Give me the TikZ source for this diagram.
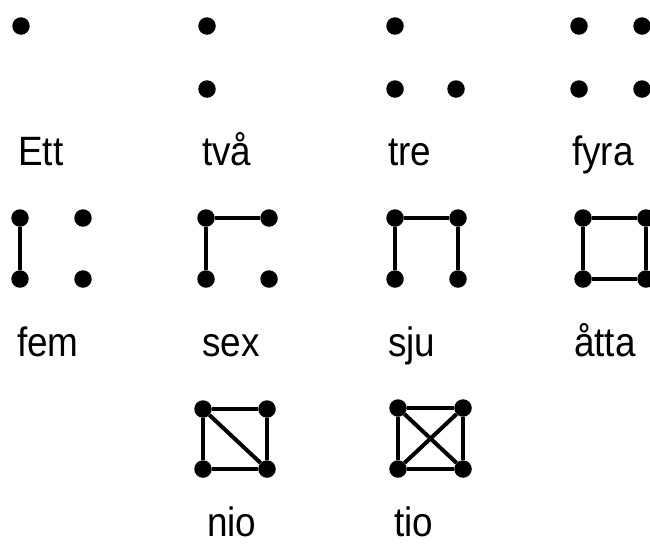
\documentclass[tikz,border=0pt]{standalone}
\usepackage{fontspec}
\setmainfont[FakeStretch=0.9]{Liberation Sans}
\begin{document}
\begin{tikzpicture}[x=1pt,y=-1pt,
  vdot/.style={circle, fill=black, inner sep=0pt, minimum size=17.5pt},
  link/.style={line width=4pt, black},
  lbl/.style={anchor=base west, inner sep=0pt, font=\fontsize{41}{48}\selectfont}]
\useasboundingbox (0,0) rectangle (650,547);
% Row 1
\node[vdot] (e1) at (21,26) {};
\node[lbl] (lEtt) at (18,165) {Ett};
\node[vdot] (t1) at (207,26) {};
\node[vdot] (t2) at (207,89) {};
\node[lbl] (ltva) at (202,165) {två};
\node[vdot] (r1) at (395,26) {};
\node[vdot] (r2) at (395,89) {};
\node[vdot] (r3) at (456,89) {};
\node[lbl] (ltre) at (388,165) {tre};
\node[vdot] (f1) at (579,26) {};
\node[vdot] (f2) at (642,26) {};
\node[vdot] (f3) at (579,89) {};
\node[vdot] (f4) at (642,89) {};
\node[lbl] (lfyra) at (572,165) {fyra};
% Row 2
\node[vdot] (a1) at (20,218) {};
\node[vdot] (a2) at (20,279) {};
\node[vdot] (a3) at (83,218) {};
\node[vdot] (a4) at (83,279) {};
\draw[link] (a1) -- (a2);
\node[lbl] (lfem) at (17,356) {fem};
\node[vdot] (b1) at (206,218) {};
\node[vdot] (b2) at (269,218) {};
\node[vdot] (b3) at (206,279) {};
\node[vdot] (b4) at (269,279) {};
\draw[link] (b3) -- (b1) -- (b2);
\node[lbl] (lsex) at (202,356) {sex};
\node[vdot] (c1) at (395,218) {};
\node[vdot] (c2) at (458,218) {};
\node[vdot] (c3) at (395,279) {};
\node[vdot] (c4) at (458,279) {};
\draw[link] (c3) -- (c1) -- (c2) -- (c4);
\node[lbl] (lsju) at (388,356) {sju};
\node[vdot] (d1) at (583,218) {};
\node[vdot] (d2) at (646,218) {};
\node[vdot] (d3) at (583,279) {};
\node[vdot] (d4) at (646,279) {};
\draw[link] (d1) -- (d2) -- (d4) -- (d3) -- (d1);
\node[lbl] (latta) at (574,356) {åtta};
% Row 3
\node[vdot] (n1) at (203,409) {};
\node[vdot] (n2) at (267,409) {};
\node[vdot] (n3) at (203,469) {};
\node[vdot] (n4) at (267,469) {};
\draw[link] (n1) -- (n2) -- (n4) -- (n3) -- (n1);
\draw[link] (n1) -- (n4);
\node[lbl] (lnio) at (207,536) {nio};
\node[vdot] (o1) at (398,408) {};
\node[vdot] (o2) at (463,408) {};
\node[vdot] (o3) at (398,469) {};
\node[vdot] (o4) at (463,469) {};
\draw[link] (o1) -- (o2) -- (o4) -- (o3) -- (o1);
\draw[link] (o1) -- (o4);
\draw[link] (o2) -- (o3);
\node[lbl] (ltio) at (394,536) {tio};
\end{tikzpicture}
\end{document}
